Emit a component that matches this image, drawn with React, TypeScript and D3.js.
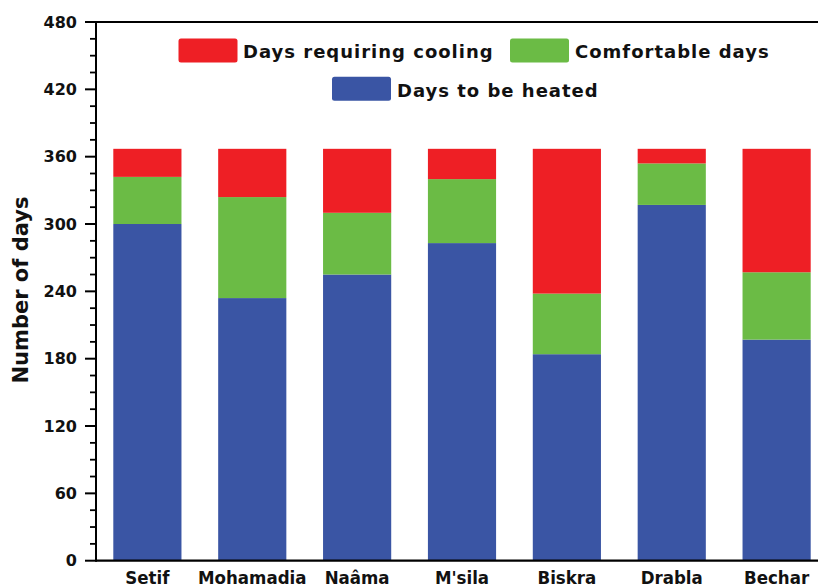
import React from "react";
import * as d3 from "d3";

const categories = ["Setif", "Mohamadia", "Naâma", "M'sila", "Biskra", "Drabla", "Bechar"];
const heated = [300, 234, 255, 283, 184, 317, 197];
const comfortable = [42, 90, 55, 57, 54, 37, 60];
const cooling = [25, 43, 57, 27, 129, 13, 110];
const yTicks = [0, 60, 120, 180, 240, 300, 360, 420, 480];
const seriesKeys = ["heated", "comfortable", "cooling"];
const seriesColors = { heated: "#3A55A4", comfortable: "#6BBB45", cooling: "#EE1F25" };

const W = 818, H = 588;
const left = 96, top = 22, bottom = 560.7, rightEdge = 828;

export default function App() {
  const rows = categories.map((c, i) => ({
    cat: c,
    heated: heated[i],
    comfortable: comfortable[i],
    cooling: cooling[i],
  }));
  const stack = d3.stack<any>().keys(seriesKeys)(rows);
  const x = d3.scaleBand<string>().domain(categories).range([left, rightEdge]).paddingInner(0.35).paddingOuter(0.165);
  const y = d3.scaleLinear().domain([0, 480]).range([bottom, top]);
  const minor = d3.range(0, 481, 15).filter((v) => v % 60 !== 0);
  const font = "'DejaVu Sans', Verdana, sans-serif";

  return (
    <svg width={W} height={H} style={{ position: "absolute", left: 0, top: 0, background: "#fff" }}>
      {stack.map((s) => (
        <g key={s.key} fill={(seriesColors as any)[s.key]}>
          {s.map((d, i) => (
            <rect
              key={i}
              x={x(categories[i])}
              width={x.bandwidth()}
              y={y(d[1])}
              height={y(d[0]) - y(d[1])}
            />
          ))}
        </g>
      ))}
      {/* frame */}
      <line x1={left} x2={W} y1={top} y2={top} stroke="#000" strokeWidth={2} />
      <line x1={left} x2={W} y1={bottom} y2={bottom} stroke="#000" strokeWidth={2.2} />
      <line x1={left} x2={left} y1={top - 1} y2={bottom + 1} stroke="#000" strokeWidth={2} />
      {yTicks.map((t) => (
        <g key={t}>
          <line x1={left - 11} x2={left} y1={y(t)} y2={y(t)} stroke="#000" strokeWidth={2} />
          <text x={77} y={y(t)} dy="0.36em" textAnchor="end" fontFamily={font} fontWeight="bold" fontSize={16} fill="#111">
            {t}
          </text>
        </g>
      ))}
      {minor.map((t) => (
        <line key={t} x1={left - 6} x2={left} y1={y(t)} y2={y(t)} stroke="#000" strokeWidth={1.8} />
      ))}
      {categories.map((c) => (
        <text
          key={c}
          x={(x(c) as number) + x.bandwidth() / 2}
          y={584}
          textAnchor="middle"
          fontFamily={font}
          fontWeight="bold"
          fontSize={18.5}
          style={{ fontStretch: "condensed" }}
          fill="#111"
        >
          {c}
        </text>
      ))}
      <text
        transform="translate(28,290) rotate(-90)"
        textAnchor="middle"
        fontFamily={font}
        fontWeight="bold"
        fontSize={21}
        fill="#111"
      >
        Number of days
      </text>
      {/* legend */}
      <g fontFamily={font} fontWeight="bold" fontSize={18} fill="#111" letterSpacing={1}>
        <rect x={178.5} y={38.5} width={59} height={24} rx={2.5} fill={seriesColors.cooling} />
        <text x={243} y={58.3}>Days requiring cooling</text>
        <rect x={510} y={38.5} width={59} height={24} rx={2.5} fill={seriesColors.comfortable} />
        <text x={575} y={58.3}>Comfortable days</text>
        <rect x={332} y={76.7} width={59} height={24} rx={2.5} fill={seriesColors.heated} />
        <text x={397} y={96.7}>Days to be heated</text>
      </g>
    </svg>
  );
}
